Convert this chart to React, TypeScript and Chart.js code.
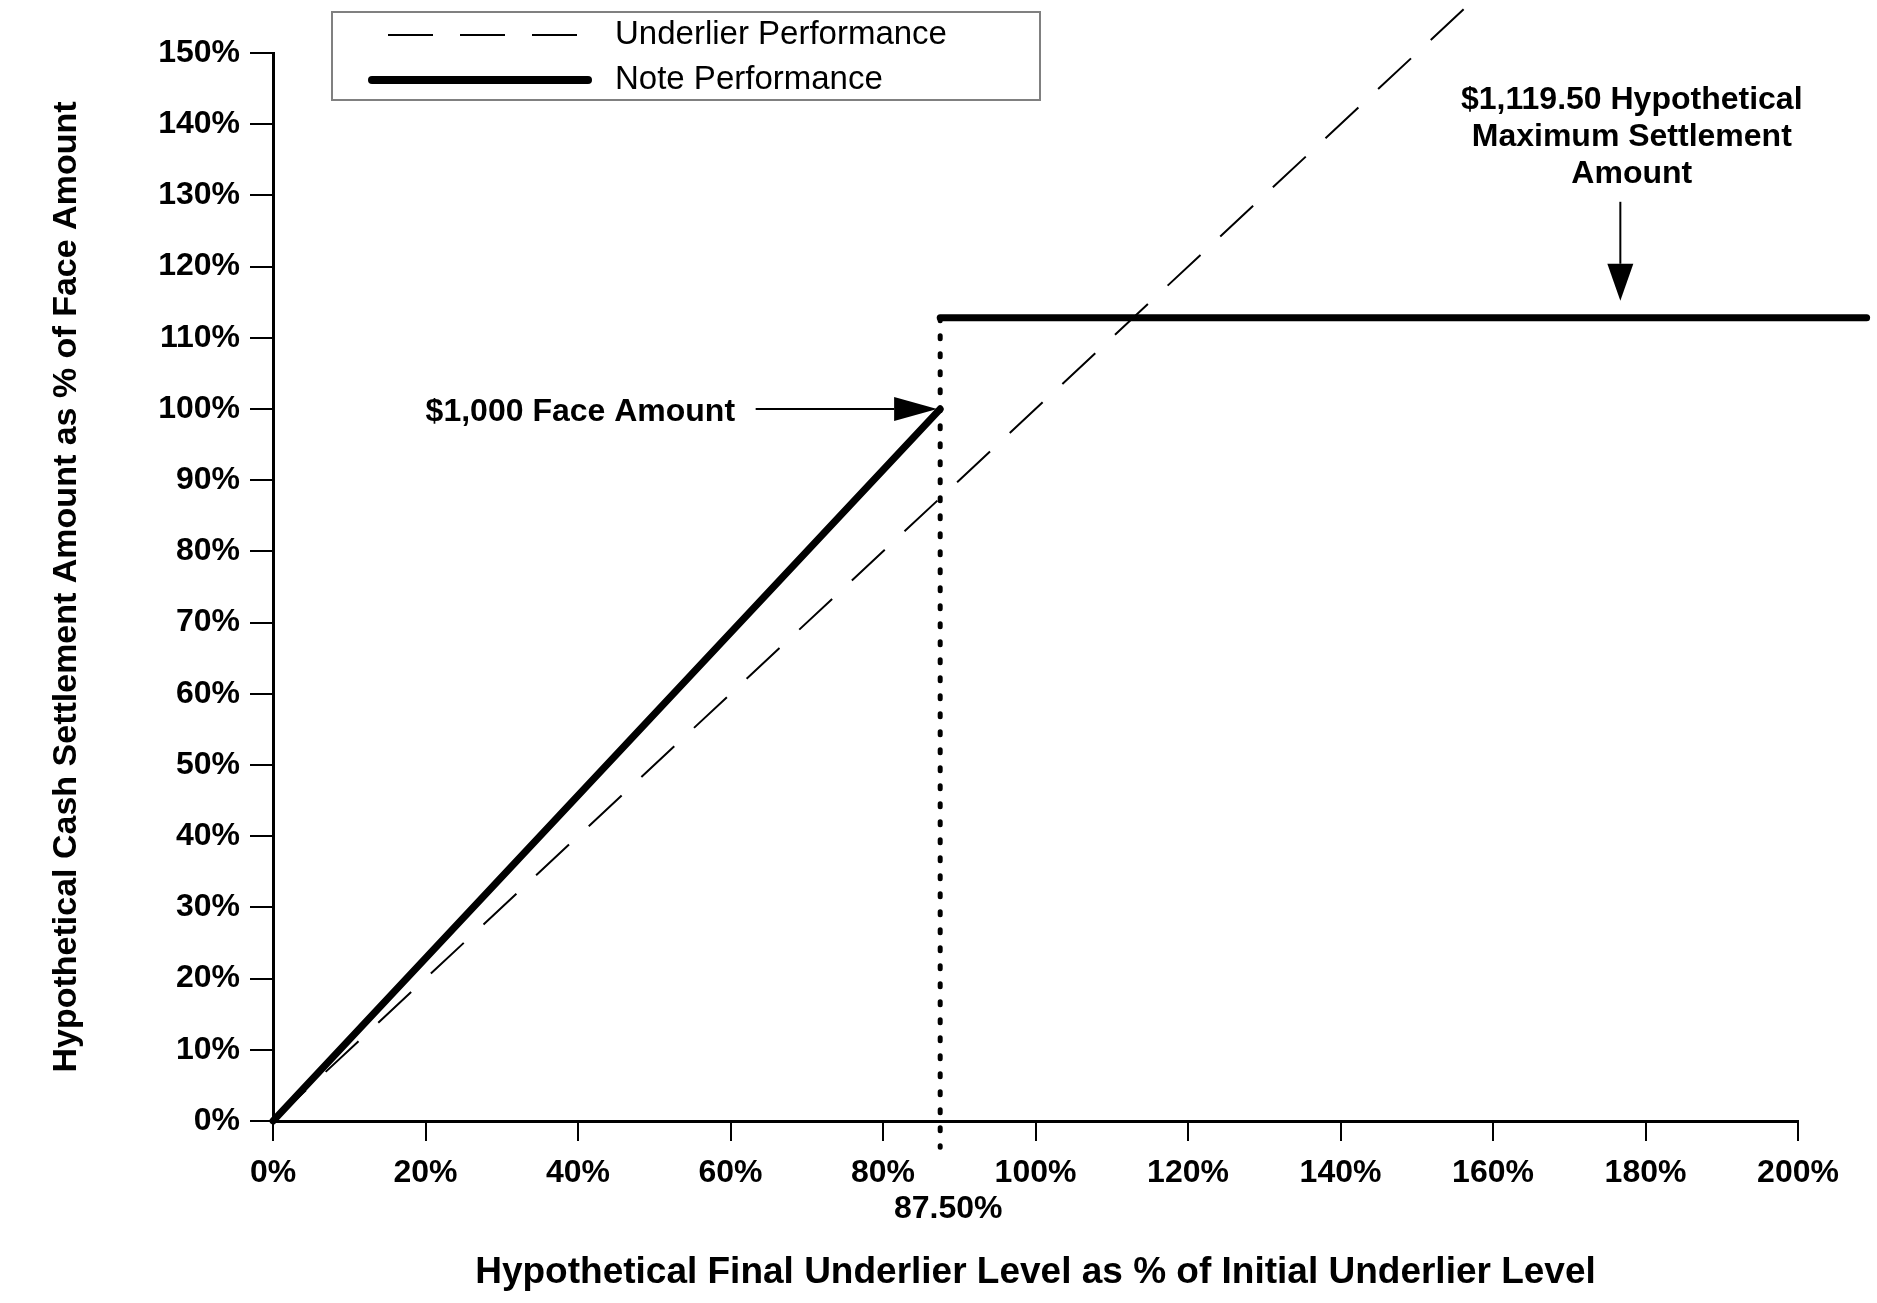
import React, { useEffect, useRef } from 'react';
import { Chart, registerables } from 'chart.js';

Chart.register(...registerables);

// ---------- data ----------
const xMin = 0;
const xMax = 200;
const xStep = 20;
const strikeLevel = 87.5; // breakpoint level
const strikeLabel = '87.50%';
const yMin = 0;
const yMax = 150;
const yStep = 10;

const underlierX = [0, 160];
const underlierY = [0, 160];

const noteRiseX = [0, 87.5];
const noteRiseY = [0, 100];

const noteCapX = [87.5, 209];
const noteCapY = [112.8, 112.8];

const jumpX = [87.5, 87.5];
const jumpY = [112.8, -3.7];

const legendLabels = ['Underlier Performance', 'Note Performance'];
const xTitle = 'Hypothetical Final Underlier Level as % of Initial Underlier Level';
const yTitle = 'Hypothetical Cash Settlement Amount as % of Face Amount';

const faceText = '$1,000 Face Amount';
const faceTextAt = [60.6, 99.6]; // right edge x, center y (data units)
const faceArrowFrom = [63.3, 100];
const faceArrowTo = [87.1, 100];

const maxTextLines = ['$1,119.50 Hypothetical', 'Maximum Settlement', 'Amount'];
const maxTextX = 178.2;
const maxTextY = [143.4, 138.2, 133.0];
const maxArrowFrom = [176.7, 129.1];
const maxArrowTo = [176.7, 115.2];

const FONT = '"Liberation Sans", Arial, Helvetica, sans-serif';

const toPts = (xs: number[], ys: number[]) => xs.map((x, i) => ({ x, y: ys[i] }));

function arrow(ctx: CanvasRenderingContext2D, x1: number, y1: number, x2: number, y2: number, headLen: number, halfW: number) {
  const ang = Math.atan2(y2 - y1, x2 - x1);
  const bx = x2 - headLen * Math.cos(ang);
  const by = y2 - headLen * Math.sin(ang);
  ctx.beginPath();
  ctx.moveTo(x1, y1);
  ctx.lineTo(bx, by);
  ctx.lineWidth = 2;
  ctx.strokeStyle = '#000';
  ctx.stroke();
  ctx.beginPath();
  ctx.moveTo(x2, y2);
  ctx.lineTo(bx + halfW * Math.sin(ang), by - halfW * Math.cos(ang));
  ctx.lineTo(bx - halfW * Math.sin(ang), by + halfW * Math.cos(ang));
  ctx.closePath();
  ctx.fillStyle = '#000';
  ctx.fill();
}

const overlayPlugin = {
  id: 'overlay',
  afterDraw(chart: any) {
    const { ctx } = chart;
    const xs = chart.scales.x;
    const ys = chart.scales.y;
    const px = (v: number) => xs.getPixelForValue(v);
    const py = (v: number) => ys.getPixelForValue(v);
    ctx.save();

    // legend box
    ctx.strokeStyle = '#808080';
    ctx.lineWidth = 2;
    ctx.strokeRect(332, 12, 708, 88);
    ctx.strokeStyle = '#000';
    ctx.lineWidth = 2;
    ctx.setLineDash([45, 27]);
    ctx.beginPath();
    ctx.moveTo(388, 35);
    ctx.lineTo(580, 35);
    ctx.stroke();
    ctx.setLineDash([]);
    ctx.lineWidth = 8;
    ctx.lineCap = 'round';
    ctx.beginPath();
    ctx.moveTo(372, 80);
    ctx.lineTo(588, 80);
    ctx.stroke();
    ctx.lineCap = 'butt';
    ctx.fillStyle = '#000';
    ctx.font = `33px ${FONT}`;
    ctx.textAlign = 'left';
    ctx.textBaseline = 'middle';
    ctx.fillText(legendLabels[0], 615, 35);
    ctx.fillText(legendLabels[1], 615, 80);

    // strike level label under the x axis
    ctx.font = `bold 32px ${FONT}`;
    ctx.textAlign = 'center';
    ctx.fillText(strikeLabel, px(strikeLevel) + 8, ys.bottom + 88);

    // face amount annotation
    ctx.textAlign = 'right';
    ctx.fillText(faceText, px(faceTextAt[0]), py(faceTextAt[1]));
    arrow(ctx, px(faceArrowFrom[0]), py(faceArrowFrom[1]), px(faceArrowTo[0]), py(faceArrowTo[1]), 43, 12);

    // max settlement annotation
    ctx.textAlign = 'center';
    ctx.fillStyle = '#000';
    maxTextLines.forEach((t, i) => ctx.fillText(t, px(maxTextX), py(maxTextY[i])));
    arrow(ctx, px(maxArrowFrom[0]), py(maxArrowFrom[1]), px(maxArrowTo[0]), py(maxArrowTo[1]), 37, 13);

    ctx.restore();
  },
};

export default function App() {
  const ref = useRef<HTMLCanvasElement | null>(null);

  useEffect(() => {
    document.body.style.margin = '0';
    const canvas = ref.current;
    if (!canvas) return;
    Chart.defaults.font.family = FONT;
    const chart = new Chart(canvas, {
      type: 'line',
      data: {
        datasets: [
          {
            label: 'Note Performance',
            data: toPts(noteRiseX, noteRiseY),
            borderColor: '#000',
            borderWidth: 7,
            borderCapStyle: 'round',
            pointRadius: 0,
            clip: false,
          } as any,
          {
            label: 'Note Performance cap',
            data: toPts(noteCapX, noteCapY),
            borderColor: '#000',
            borderWidth: 7,
            borderCapStyle: 'round',
            pointRadius: 0,
            clip: false,
          },
          {
            label: 'Jump',
            data: toPts(jumpX, jumpY),
            borderColor: '#000',
            borderWidth: 5,
            borderDash: [3, 15],
            borderCapStyle: 'round',
            pointRadius: 0,
            clip: false,
          },
          {
            label: 'Underlier Performance',
            data: toPts(underlierX, underlierY),
            borderColor: '#000',
            borderWidth: 2,
            borderDash: [45, 27],
            pointRadius: 0,
            clip: false,
          },
        ],
      },
      options: {
        animation: false,
        responsive: false,
        devicePixelRatio: 1,
        layout: { padding: { top: 53, right: 79, bottom: 0, left: 0 } },
        plugins: { legend: { display: false }, tooltip: { enabled: false } },
        scales: {
          x: {
            type: 'linear',
            min: xMin,
            max: xMax,
            afterFit: (scale: any) => {
              scale.height = 182;
            },
            ticks: {
              stepSize: xStep,
              autoSkip: false,
              maxRotation: 0,
              minRotation: 0,
              padding: 13,
              color: '#000',
              font: { size: 32, weight: 'bold' },
              callback: (v: any) => `${v}%`,
            },
            grid: {
              drawOnChartArea: false,
              drawTicks: true,
              tickLength: 20,
              lineWidth: 2,
              color: '#000',
            },
            border: { display: true, color: '#000', width: 3 },
            title: {
              display: true,
              text: xTitle,
              color: '#000',
              font: { size: 37, weight: 'bold' },
              padding: { top: 0, bottom: 8 },
            },
          },
          y: {
            type: 'linear',
            min: yMin,
            max: yMax,
            ticks: {
              stepSize: yStep,
              padding: 10,
              color: '#000',
              font: { size: 32, weight: 'bold' },
              callback: (v: any) => `${v}%`,
            },
            afterFit: (scale: any) => {
              scale.width = 273;
            },
            grid: {
              drawOnChartArea: false,
              drawTicks: true,
              tickLength: 23,
              lineWidth: 2,
              color: '#000',
            },
            border: { display: true, color: '#000', width: 3 },
            title: {
              display: true,
              text: yTitle,
              color: '#000',
              font: { size: 34, weight: 'bold' },
              padding: { top: 46, bottom: 0 },
            },
          },
        },
      } as any,
      plugins: [overlayPlugin],
    });
    return () => chart.destroy();
  }, []);

  return <canvas ref={ref} width={1877} height={1303} style={{ display: 'block', width: 1877, height: 1303 }} />;
}
